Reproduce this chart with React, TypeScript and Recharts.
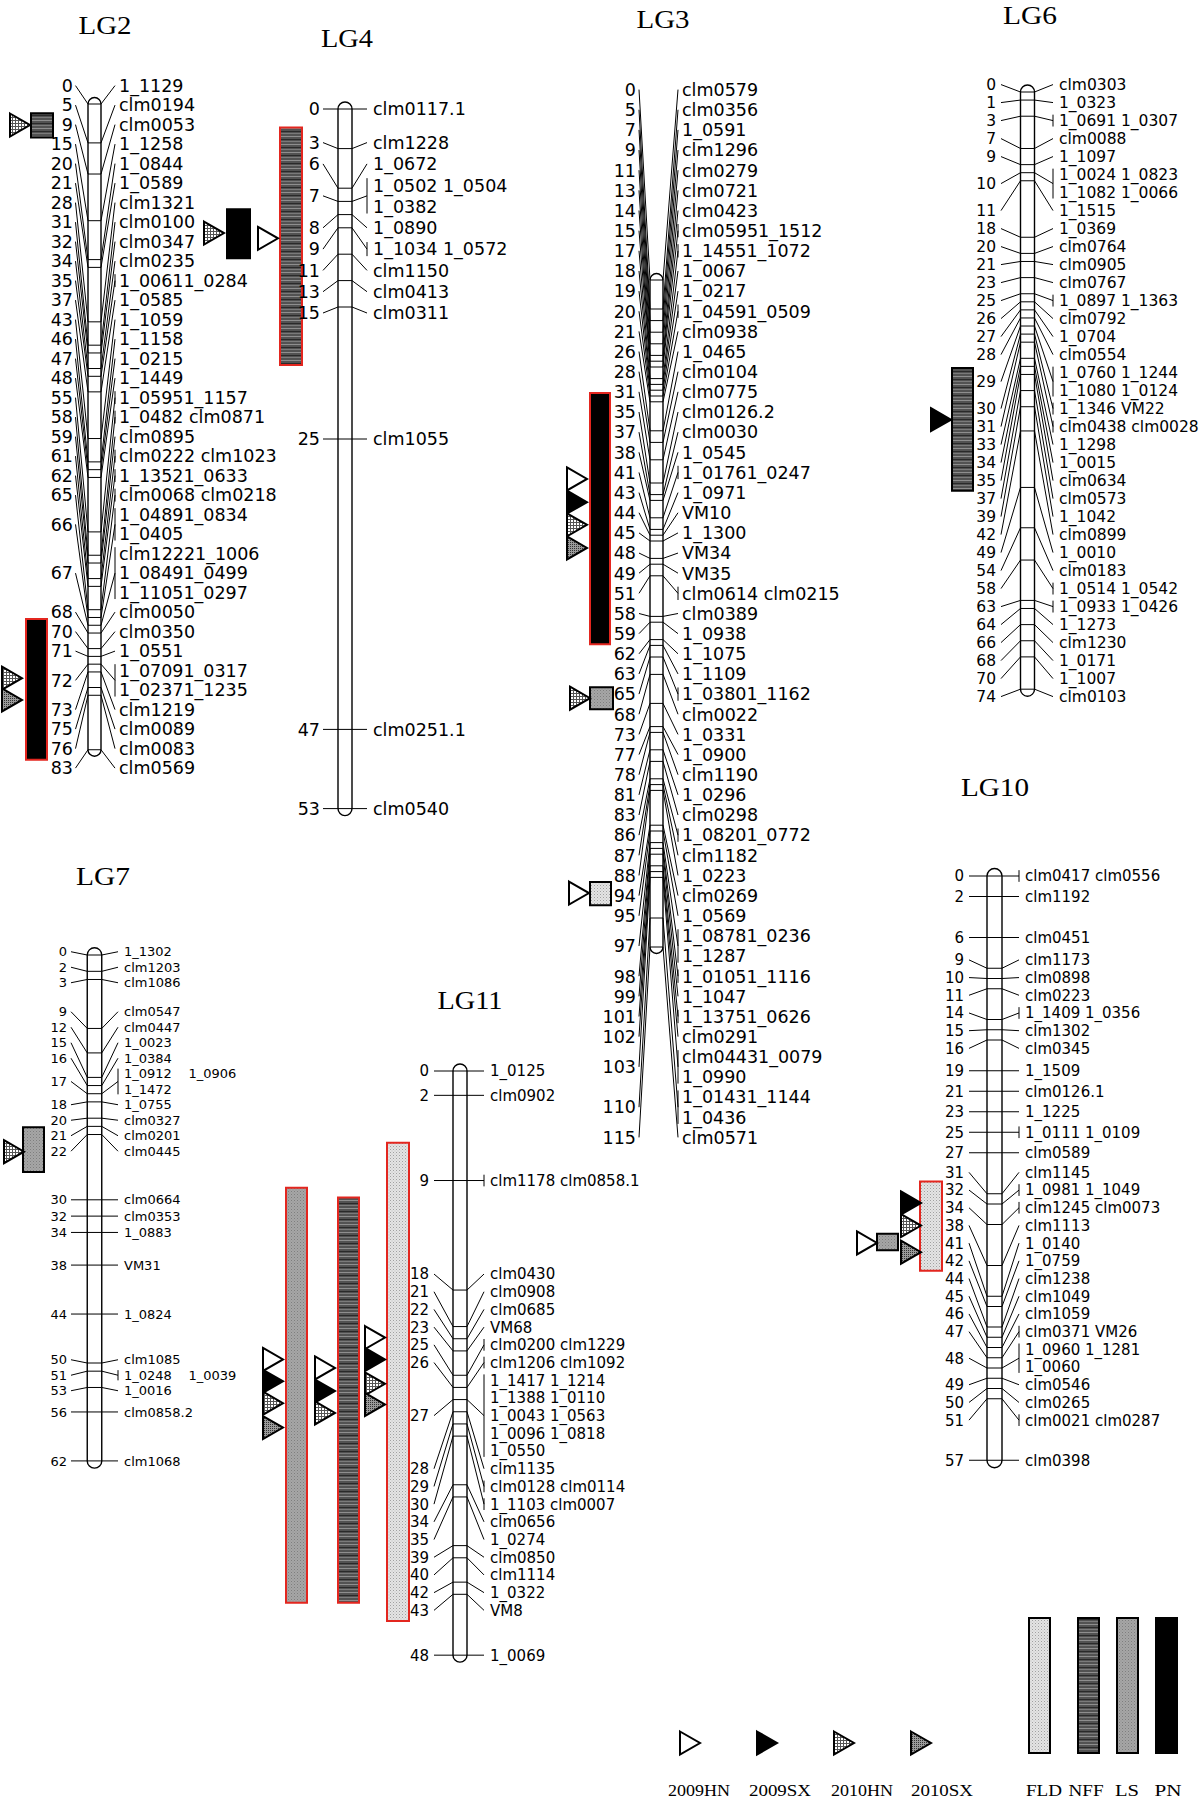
import React from "react";
import { ScatterChart, Scatter, XAxis, YAxis, ReferenceLine, ReferenceArea } from "recharts";

const PAGE_W = 1200;
const PAGE_H = 1802;

// ---------- map data (positions in cM, marker rows as printed) ----------
const LG2_POS = [0, 5, 9, 15, 20, 21, 28, 31, 32, 34, 35, 37, 43, 46, 47, 48, 55, 58, 59, 61, 62, 65, 66, 67, 68, 70, 71, 72, 73, 75, 76, 83];
const LG2_MARKERS = [
  ["1_1129"], ["clm0194"], ["clm0053"], ["1_1258"], ["1_0844"], ["1_0589"], ["clm1321"], ["clm0100"], ["clm0347"],
  ["clm0235"], ["1_00611_0284"], ["1_0585"], ["1_1059"], ["1_1158"], ["1_0215"], ["1_1449"], ["1_05951_1157"],
  ["1_0482 clm0871"], ["clm0895"], ["clm0222 clm1023"], ["1_13521_0633"], ["clm0068 clm0218"],
  ["1_04891_0834", "1_0405"], ["clm12221_1006", "1_08491_0499", "1_11051_0297"], ["clm0050"], ["clm0350"],
  ["1_0551"], ["1_07091_0317", "1_02371_1235"], ["clm1219"], ["clm0089"], ["clm0083"], ["clm0569"],
];

const LG4_POS = [0, 3, 6, 7, 8, 9, 11, 13, 15, 25, 47, 53];
const LG4_MARKERS = [
  ["clm0117.1"], ["clm1228"], ["1_0672"], ["1_0502 1_0504", "1_0382"], ["1_0890"], ["1_1034 1_0572"],
  ["clm1150"], ["clm0413"], ["clm0311"], ["clm1055"], ["clm0251.1"], ["clm0540"],
];

const LG3_POS = [0, 5, 7, 9, 11, 13, 14, 15, 17, 18, 19, 20, 21, 26, 28, 31, 35, 37, 38, 41, 43, 44, 45, 48, 49, 51, 58, 59, 62, 63, 65, 68, 73, 77, 78, 81, 83, 86, 87, 88, 94, 95, 97, 98, 99, 101, 102, 103, 110, 115];
const LG3_MARKERS = [
  ["clm0579"], ["clm0356"], ["1_0591"], ["clm1296"], ["clm0279"], ["clm0721"], ["clm0423"], ["clm05951_1512"],
  ["1_14551_1072"], ["1_0067"], ["1_0217"], ["1_04591_0509"], ["clm0938"], ["1_0465"], ["clm0104"], ["clm0775"],
  ["clm0126.2"], ["clm0030"], ["1_0545"], ["1_01761_0247"], ["1_0971"], ["VM10"], ["1_1300"], ["VM34"], ["VM35"],
  ["clm0614 clm0215"], ["clm0389"], ["1_0938"], ["1_1075"], ["1_1109"], ["1_03801_1162"], ["clm0022"], ["1_0331"],
  ["1_0900"], ["clm1190"], ["1_0296"], ["clm0298"], ["1_08201_0772"], ["clm1182"], ["1_0223"], ["clm0269"],
  ["1_0569"], ["1_08781_0236", "1_1287"], ["1_01051_1116"], ["1_1047"], ["1_13751_0626"], ["clm0291"],
  ["clm04431_0079", "1_0990"], ["1_01431_1144", "1_0436"], ["clm0571"],
];

const LG6_POS = [0, 1, 3, 7, 9, 10, 11, 18, 20, 21, 23, 25, 26, 27, 28, 29, 30, 31, 33, 34, 35, 37, 39, 42, 49, 54, 58, 63, 64, 66, 68, 70, 74];
const LG6_MARKERS = [
  ["clm0303"], ["1_0323"], ["1_0691 1_0307"], ["clm0088"], ["1_1097"], ["1_0024 1_0823", "1_1082 1_0066"],
  ["1_1515"], ["1_0369"], ["clm0764"], ["clm0905"], ["clm0767"], ["1_0897 1_1363"], ["clm0792"], ["1_0704"],
  ["clm0554"], ["1_0760 1_1244", "1_1080 1_0124"], ["1_1346 VM22"], ["clm0438 clm0028"], ["1_1298"], ["1_0015"],
  ["clm0634"], ["clm0573"], ["1_1042"], ["clm0899"], ["1_0010"], ["clm0183"], ["1_0514 1_0542"],
  ["1_0933 1_0426"], ["1_1273"], ["clm1230"], ["1_0171"], ["1_1007"], ["clm0103"],
];

const LG7_POS = [0, 2, 3, 9, 12, 15, 16, 17, 18, 20, 21, 22, 30, 32, 34, 38, 44, 50, 51, 53, 56, 62];
const LG7_MARKERS = [
  ["1_1302"], ["clm1203"], ["clm1086"], ["clm0547"], ["clm0447"], ["1_0023"], ["1_0384"],
  ["1_0912    1_0906", "1_1472"], ["1_0755"], ["clm0327"], ["clm0201"], ["clm0445"], ["clm0664"], ["clm0353"],
  ["1_0883"], ["VM31"], ["1_0824"], ["clm1085"], ["1_0248    1_0039"], ["1_0016"], ["clm0858.2"], ["clm1068"],
];

const LG11_POS = [0, 2, 9, 18, 21, 22, 23, 25, 26, 27, 28, 29, 30, 34, 35, 39, 40, 42, 43, 48];
const LG11_MARKERS = [
  ["1_0125"], ["clm0902"], ["clm1178 clm0858.1"], ["clm0430"], ["clm0908"], ["clm0685"], ["VM68"],
  ["clm0200 clm1229"], ["clm1206 clm1092"],
  ["1_1417 1_1214", "1_1388 1_0110", "1_0043 1_0563", "1_0096 1_0818", "1_0550"],
  ["clm1135"], ["clm0128 clm0114"], ["1_1103 clm0007"], ["clm0656"], ["1_0274"], ["clm0850"], ["clm1114"],
  ["1_0322"], ["VM8"], ["1_0069"],
];

const LG10_POS = [0, 2, 6, 9, 10, 11, 14, 15, 16, 19, 21, 23, 25, 27, 31, 32, 34, 38, 41, 42, 44, 45, 46, 47, 48, 49, 50, 51, 57];
const LG10_MARKERS = [
  ["clm0417 clm0556"], ["clm1192"], ["clm0451"], ["clm1173"], ["clm0898"], ["clm0223"], ["1_1409 1_0356"],
  ["clm1302"], ["clm0345"], ["1_1509"], ["clm0126.1"], ["1_1225"], ["1_0111 1_0109"], ["clm0589"], ["clm1145"],
  ["1_0981 1_1049"], ["clm1245 clm0073"], ["clm1113"], ["1_0140"], ["1_0759"], ["clm1238"], ["clm1049"],
  ["clm1059"], ["clm0371 VM26"], ["1_0960 1_1281", "1_0060"], ["clm0546"], ["clm0265"], ["clm0021 clm0287"],
  ["clm0398"],
];

// QTL intervals (cM) and LOD peaks per environment
type Qtl = { trait: string; from: number; to: number; peaks: { env: string; at: number }[] };

const LG2_QTL: Qtl[] = [
  { trait: "NFF", from: 1.2, to: 4.3, peaks: [{ env: "2010HN", at: 2.7 }] },
  { trait: "PN", from: 66.2, to: 84.3, peaks: [{ env: "2010HN", at: 73.8 }, { env: "2010SX", at: 76.6 }] },
];
const LG4_QTL: Qtl[] = [
  { trait: "PN", from: 7.6, to: 11.3, peaks: [{ env: "2010HN", at: 9.4 }] },
  { trait: "NFF", from: 1.4, to: 19.4, peaks: [{ env: "2009HN", at: 9.8 }] },
];
const LG3_QTL: Qtl[] = [
  {
    trait: "PN", from: 19.5, to: 62.8,
    peaks: [{ env: "2009HN", at: 34.3 }, { env: "2009SX", at: 38.3 }, { env: "2010HN", at: 42.2 }, { env: "2010SX", at: 46.2 }],
  },
  { trait: "LS", from: 70.2, to: 74.0, peaks: [{ env: "2010HN", at: 72.1 }] },
  { trait: "FLD", from: 103.8, to: 107.8, peaks: [{ env: "2009HN", at: 105.7 }] },
];
const LG6_QTL: Qtl[] = [{ trait: "NFF", from: 34.2, to: 49.4, peaks: [{ env: "2009SX", at: 40.6 }] }];
const LG7_QTL: Qtl[] = [{ trait: "LS", from: 21.1, to: 26.6, peaks: [{ env: "2010HN", at: 24.1 }] }];
const LG11_QTL: Qtl[] = [
  {
    trait: "LS", from: 9.6, to: 43.7,
    peaks: [{ env: "2009HN", at: 23.7 }, { env: "2009SX", at: 25.5 }, { env: "2010HN", at: 27.3 }, { env: "2010SX", at: 29.3 }],
  },
  { trait: "NFF", from: 10.4, to: 43.7, peaks: [{ env: "2009HN", at: 24.4 }, { env: "2009SX", at: 26.3 }, { env: "2010HN", at: 28.1 }] },
  {
    trait: "FLD", from: 5.9, to: 45.2,
    peaks: [{ env: "2009HN", at: 21.9 }, { env: "2009SX", at: 23.7 }, { env: "2010HN", at: 25.7 }, { env: "2010SX", at: 27.4 }],
  },
];
const LG10_QTL: Qtl[] = [
  { trait: "FLD", from: 29.8, to: 38.5, peaks: [{ env: "2009SX", at: 31.9 }, { env: "2010HN", at: 34.1 }, { env: "2010SX", at: 36.7 }] },
  { trait: "LS", from: 34.9, to: 36.5, peaks: [{ env: "2009HN", at: 35.8 }] },
];

const ENVIRONMENTS = ["2009HN", "2009SX", "2010HN", "2010SX"];
const TRAITS = ["FLD", "NFF", "LS", "PN"];

// ---------- layout / style ----------
const RED = "#e3261f";
const LABEL_FONT = "DejaVu Sans, Arial, sans-serif";
const TITLE_FONT = "Liberation Serif, Times New Roman, serif";
const MARKER_RE = /clm\d{4}(?:\.\d)?|1_\d{4}|VM\d+/g;

const ENV_FILL: Record<string, string> = {
  "2009HN": "#ffffff",
  "2009SX": "#000000",
  "2010HN": "url(#pat-hn10)",
  "2010SX": "url(#pat-sx10)",
};
const TRAIT_FILL: Record<string, string> = {
  FLD: "url(#pat-fld)",
  NFF: "url(#pat-nff)",
  LS: "url(#pat-ls)",
  PN: "#000000",
};

type Box = { x: number; w: number; tri: number; red: boolean };
type Layout = {
  title: string; titleX: number; titleY: number; titleW: number;
  cx: number; w: number; y0: number; px: number;
  numX: number; lineL: number; lineR: number; labelX: number;
  gap: number; font: number; boxes: Box[];
};

const LG2_LAYOUT: Layout = {
  title: "LG2", titleX: 105, titleY: 34, titleW: 53, cx: 94.5, w: 13, y0: 104, px: 7.78,
  numX: 73, lineL: 75.5, lineR: 115, labelX: 119, gap: 19.5, font: 17.5,
  boxes: [{ x: 31, w: 22, tri: 9, red: false }, { x: 26, w: 21, tri: 1, red: true }],
};
const LG4_LAYOUT: Layout = {
  title: "LG4", titleX: 347, titleY: 47, titleW: 52, cx: 345, w: 14, y0: 109, px: 13.2,
  numX: 320, lineL: 323, lineR: 367, labelX: 373, gap: 21.3, font: 17.5,
  boxes: [{ x: 227, w: 23, tri: 203, red: false }, { x: 280, w: 22, tri: 257, red: true }],
};
const LG3_LAYOUT: Layout = {
  title: "LG3", titleX: 663, titleY: 28, titleW: 53, cx: 656.5, w: 13, y0: 280, px: 5.8,
  numX: 636, lineL: 639, lineR: 678, labelX: 682, gap: 20.15, font: 17.5,
  boxes: [{ x: 590, w: 20, tri: 566, red: true }, { x: 590, w: 23, tri: 569, red: false }, { x: 590, w: 21, tri: 568, red: false }],
};
const LG6_LAYOUT: Layout = {
  title: "LG6", titleX: 1030, titleY: 24, titleW: 54, cx: 1027.5, w: 14, y0: 92, px: 8.07,
  numX: 996, lineL: 1001, lineR: 1053, labelX: 1059, gap: 18, font: 15.5,
  boxes: [{ x: 952, w: 21, tri: 930, red: false }],
};
const LG7_LAYOUT: Layout = {
  title: "LG7", titleX: 103, titleY: 885, titleW: 54, cx: 94.5, w: 14.5, y0: 955, px: 8.16,
  numX: 67, lineL: 71, lineR: 118, labelX: 124, gap: 15.5, font: 13,
  boxes: [{ x: 23, w: 21, tri: 3, red: false }],
};
const LG11_LAYOUT: Layout = {
  title: "LG11", titleX: 470, titleY: 1009, titleW: 65, cx: 460, w: 14, y0: 1071, px: 12.17,
  numX: 429, lineL: 434, lineR: 484, labelX: 490, gap: 17.7, font: 15,
  boxes: [{ x: 286, w: 21, tri: 262, red: true }, { x: 338, w: 21, tri: 314, red: true }, { x: 387, w: 22, tri: 364, red: true }],
};
const LG10_LAYOUT: Layout = {
  title: "LG10", titleX: 995, titleY: 796, titleW: 68, cx: 994.5, w: 15, y0: 876, px: 10.25,
  numX: 964, lineL: 969, lineR: 1019, labelX: 1025, gap: 17.7, font: 15,
  boxes: [{ x: 920, w: 22, tri: 900, red: true }, { x: 877, w: 21, tri: 856, red: false }],
};

const GROUPS = [
  { pos: LG2_POS, markers: LG2_MARKERS, qtl: LG2_QTL, L: LG2_LAYOUT },
  { pos: LG4_POS, markers: LG4_MARKERS, qtl: LG4_QTL, L: LG4_LAYOUT },
  { pos: LG3_POS, markers: LG3_MARKERS, qtl: LG3_QTL, L: LG3_LAYOUT },
  { pos: LG6_POS, markers: LG6_MARKERS, qtl: LG6_QTL, L: LG6_LAYOUT },
  { pos: LG7_POS, markers: LG7_MARKERS, qtl: LG7_QTL, L: LG7_LAYOUT },
  { pos: LG11_POS, markers: LG11_MARKERS, qtl: LG11_QTL, L: LG11_LAYOUT },
  { pos: LG10_POS, markers: LG10_MARKERS, qtl: LG10_QTL, L: LG10_LAYOUT },
];

// legend layout
const ENV_X = [679, 756, 833, 910];
const ENV_LABEL_X = [699, 780, 862, 942];
const TRAIT_X = [1029, 1078, 1117, 1156];
const TRAIT_LABEL_X = [1044, 1086, 1127, 1168];
const TRAIT_LABEL_W = [36, 35, 24, 27];

// spread label rows so they keep a minimum gap; clusters are centred on the
// midpoint of the positions they hold (MapChart style)
function placeRows(pos: number[], markers: string[][], gap: number) {
  type C = { a: number; b: number; n: number };
  const cl: C[] = pos.map((_, i) => ({ a: i, b: i, n: markers[i].length }));
  const mid = (c: C) => (pos[c.a] + pos[c.b]) / 2;
  const top = (c: C) => mid(c) - ((c.n - 1) * gap) / 2;
  const bot = (c: C) => mid(c) + ((c.n - 1) * gap) / 2;
  let again = true;
  while (again) {
    again = false;
    for (let i = 0; i + 1 < cl.length; i++) {
      if (top(cl[i + 1]) - bot(cl[i]) < gap - 1e-6) {
        cl.splice(i, 2, { a: cl[i].a, b: cl[i + 1].b, n: cl[i].n + cl[i + 1].n });
        again = true;
        break;
      }
    }
  }
  const rowY: number[][] = [];
  cl.forEach((c) => {
    let y = top(c);
    for (let g = c.a; g <= c.b; g++) {
      rowY[g] = markers[g].map(() => {
        const v = y;
        y += gap;
        return v;
      });
    }
  });
  return rowY;
}

const textShape = (anchor: "start" | "end" | "middle", size: number) => (p: any) => (
  <text
    x={p.cx}
    y={p.cy}
    dy="0.36em"
    textAnchor={anchor}
    fontSize={size}
    fontFamily={LABEL_FONT}
    fill="#000"
    style={{ whiteSpace: "pre" }}
  >
    {p.payload.text}
  </text>
);

const serifShape = (size: number) => (p: any) => (
  <text
    x={p.cx}
    y={p.cy}
    textAnchor="middle"
    fontSize={size}
    fontFamily={TITLE_FONT}
    fill="#000"
    textLength={p.payload.w}
    lengthAdjust="spacingAndGlyphs"
  >
    {p.payload.text}
  </text>
);

const TRI_W = 21;
const TRI_H = 23;
function Triangle(p: any) {
  const { cx, cy } = p;
  return (
    <polygon
      points={`${cx + 1},${cy - TRI_H / 2} ${cx + TRI_W},${cy} ${cx + 1},${cy + TRI_H / 2}`}
      fill={ENV_FILL[p.payload.env]}
      stroke="#000"
      strokeWidth={2}
    />
  );
}

function Patterns() {
  return (
    <svg width={1} height={1} style={{ position: "absolute", left: 0, top: 0 }}>
      <defs>
        <pattern id="pat-fld" width={3} height={3} patternUnits="userSpaceOnUse">
          <rect width={3} height={3} fill="#e4e4e4" />
          <rect width={1} height={1} fill="#a0a0a0" />
          <rect x={1.5} y={1.5} width={1} height={1} fill="#bcbcbc" />
        </pattern>
        <pattern id="pat-nff" width={6} height={8} patternUnits="userSpaceOnUse">
          <rect width={6} height={8} fill="#525252" />
          <rect y={0} width={6} height={1} fill="#8e8e8e" />
          <rect y={3} width={6} height={1} fill="#2a2a2a" />
          <rect y={5} width={6} height={1} fill="#7a7a7a" />
        </pattern>
        <pattern id="pat-ls" width={3} height={3} patternUnits="userSpaceOnUse">
          <rect width={3} height={3} fill="#a6a6a6" />
          <rect width={1} height={1} fill="#7e7e7e" />
          <rect x={1.5} y={1.5} width={1} height={1} fill="#909090" />
        </pattern>
        <pattern id="pat-hn10" width={3} height={3} patternUnits="userSpaceOnUse">
          <rect width={3} height={3} fill="#ffffff" />
          <path d="M0 0.5H3M0.5 0V3" stroke="#555" strokeWidth={1} />
        </pattern>
        <pattern id="pat-sx10" width={2} height={2} patternUnits="userSpaceOnUse">
          <rect width={2} height={2} fill="#9a9a9a" />
          <rect width={1} height={1} fill="#333" />
        </pattern>
      </defs>
    </svg>
  );
}

type Pt = { x: number; y: number };

function LinkageGroup({ pos, markers, qtl, L }: { pos: number[]; markers: string[][]; qtl: Qtl[]; L: Layout }) {
  const gapCM = L.gap / L.px;
  const rowY = placeRows(pos, markers, gapCM);
  const toCM = (py: number) => (py - L.y0) / L.px;
  const half = L.w / 2;
  const left = L.cx - half;
  const right = L.cx + half;
  const ext = (L.gap * 0.33) / L.px;

  const labelPts: any[] = [];
  const numberPts: any[] = [];
  const segs: [Pt, Pt][] = [];
  pos.forEach((p, i) => {
    const ys = rowY[i];
    const c = (ys[0] + ys[ys.length - 1]) / 2;
    ys.forEach((y, k) => labelPts.push({ x: L.labelX, y, text: markers[i][k] }));
    numberPts.push({ x: L.numX, y: c, text: String(p) });
    segs.push([{ x: left, y: p }, { x: right, y: p }]);
    segs.push([{ x: L.lineL, y: c }, { x: left, y: p }]);
    segs.push([{ x: right, y: p }, { x: L.lineR, y: c }]);
    const count = markers[i].reduce((s, r) => s + (r.match(MARKER_RE) || []).length, 0);
    if (count > 1) segs.push([{ x: L.lineR, y: ys[0] - ext }, { x: L.lineR, y: ys[ys.length - 1] + ext }]);
  });

  const peakPts = qtl.flatMap((q, j) => q.peaks.map((pk) => ({ x: L.boxes[j].tri, y: pk.at, env: pk.env })));
  const titlePts = [{ x: L.titleX, y: toCM(L.titleY), text: L.title, w: L.titleW }];

  return (
    <div style={{ position: "absolute", left: 0, top: 0 }}>
      <ScatterChart width={PAGE_W} height={PAGE_H} margin={{ top: 0, right: 0, bottom: 0, left: 0 }}>
        <XAxis type="number" dataKey="x" domain={[0, PAGE_W]} hide allowDataOverflow />
        <YAxis type="number" dataKey="y" domain={[toCM(0), toCM(PAGE_H)]} reversed hide allowDataOverflow />
        {qtl.map((q, j) => (
          <ReferenceArea
            key={"q" + j}
            x1={L.boxes[j].x}
            x2={L.boxes[j].x + L.boxes[j].w}
            y1={q.from}
            y2={q.to}
            fill={TRAIT_FILL[q.trait]}
            fillOpacity={1}
            stroke={L.boxes[j].red ? RED : "#000"}
            strokeWidth={2}
            ifOverflow="visible"
          />
        ))}
        <ReferenceArea
          x1={left}
          x2={right}
          y1={pos[0] - half / L.px}
          y2={pos[pos.length - 1] + half / L.px}
          ifOverflow="visible"
          shape={(p: any) => (
            <rect x={p.x} y={p.y} width={p.width} height={p.height} rx={half} ry={half} fill="none" stroke="#000" strokeWidth={1.4} />
          )}
        />
        {segs.map((s, k) => (
          <ReferenceLine key={"s" + k} segment={s} stroke="#000" strokeWidth={1} ifOverflow="visible" />
        ))}
        <Scatter data={numberPts} shape={textShape("end", L.font)} isAnimationActive={false} />
        <Scatter data={labelPts} shape={textShape("start", L.font)} isAnimationActive={false} />
        <Scatter data={peakPts} shape={Triangle} isAnimationActive={false} />
        <Scatter data={titlePts} shape={serifShape(25)} isAnimationActive={false} />
      </ScatterChart>
    </div>
  );
}

function LegendChart() {
  const envPts = ENVIRONMENTS.map((env, i) => ({ x: ENV_X[i], y: 1743, env }));
  const envLabels = ENVIRONMENTS.map((env, i) => ({ x: ENV_LABEL_X[i], y: 1796, text: env, w: 62 }));
  const traitLabels = TRAITS.map((t, i) => ({ x: TRAIT_LABEL_X[i], y: 1796, text: t, w: TRAIT_LABEL_W[i] }));
  return (
    <div style={{ position: "absolute", left: 0, top: 0 }}>
      <ScatterChart width={PAGE_W} height={PAGE_H} margin={{ top: 0, right: 0, bottom: 0, left: 0 }}>
        <XAxis type="number" dataKey="x" domain={[0, PAGE_W]} hide allowDataOverflow />
        <YAxis type="number" dataKey="y" domain={[0, PAGE_H]} reversed hide allowDataOverflow />
        {TRAITS.map((t, i) => (
          <ReferenceArea
            key={t}
            x1={TRAIT_X[i]}
            x2={TRAIT_X[i] + 21}
            y1={1618}
            y2={1753}
            fill={TRAIT_FILL[t]}
            fillOpacity={1}
            stroke="#000"
            strokeWidth={2}
            ifOverflow="visible"
          />
        ))}
        <Scatter data={envPts} shape={Triangle} isAnimationActive={false} />
        <Scatter data={envLabels} shape={serifShape(17)} isAnimationActive={false} />
        <Scatter data={traitLabels} shape={serifShape(17)} isAnimationActive={false} />
      </ScatterChart>
    </div>
  );
}

export default function App() {
  return (
    <div
      style={{
        position: "absolute",
        left: 0,
        top: 0,
        width: PAGE_W,
        height: PAGE_H,
        background: "#fff",
        overflow: "hidden",
      }}
    >
      <Patterns />
      {GROUPS.map((g) => (
        <LinkageGroup key={g.L.title} pos={g.pos} markers={g.markers} qtl={g.qtl} L={g.L} />
      ))}
      <LegendChart />
    </div>
  );
}
